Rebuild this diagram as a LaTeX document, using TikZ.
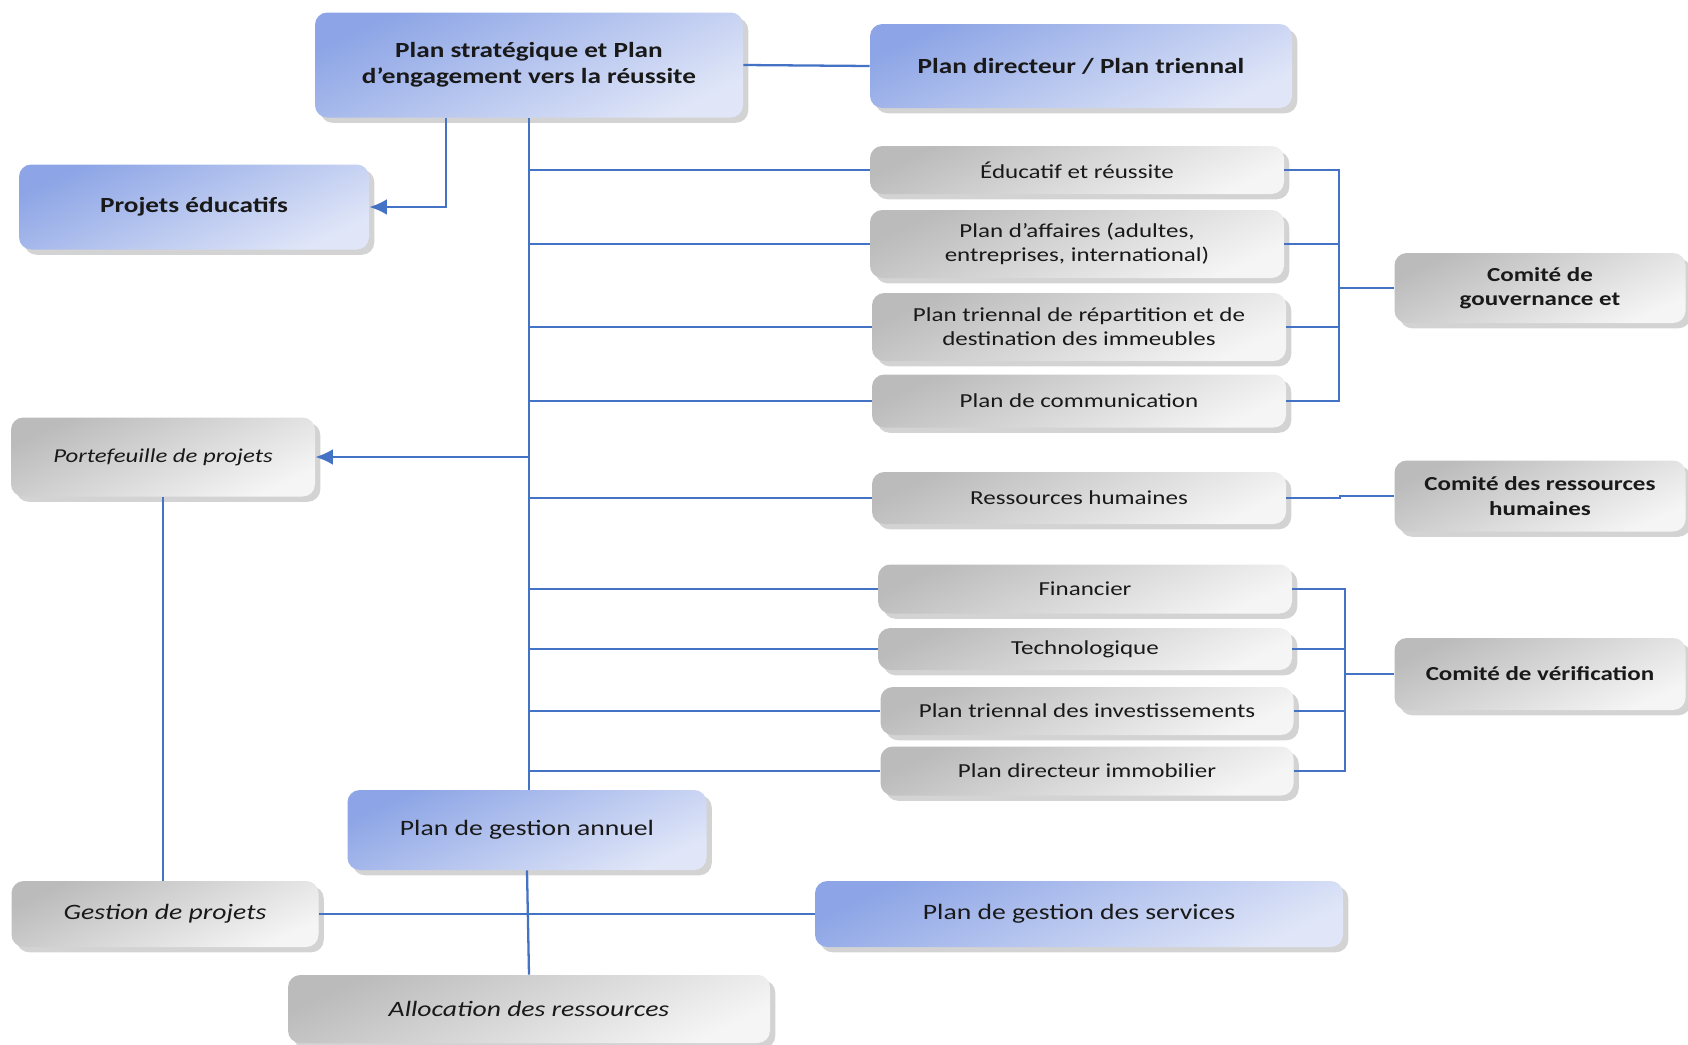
\documentclass[tikz,border=0pt]{standalone}
\usepackage{fontspec}
\setmainfont{Carlito}[FakeStretch=1.26]
\usetikzlibrary{arrows.meta,calc,shadows}
\definecolor{Link}{HTML}{4472C4}
\definecolor{BlueTop}{HTML}{8DA5E6}
\definecolor{BlueLow}{HTML}{E0E6F8}
\definecolor{GreyTop}{HTML}{BBBBBB}
\definecolor{GreyLow}{HTML}{F5F5F5}
\tikzset{
  card/.style={rounded corners=7pt, align=center, inner sep=2pt, text=black!90,
    drop shadow={shadow xshift=3pt, shadow yshift=-3pt, opacity=0.35}},
  bluecard/.style={card, top color=BlueTop, bottom color=BlueLow, shading angle=25},
  greycard/.style={card, top color=GreyTop, bottom color=GreyLow, shading angle=25},
  boxsize/.style 2 args={minimum width={#1*0.02cm}, minimum height={#2*0.02cm}},
  headtext/.style={font=\bfseries\fontsize{12.3}{15}\selectfont},
  bodytext/.style={font=\fontsize{11.3}{13.8}\selectfont},
  bigtext/.style={font=\fontsize{12.5}{15}\selectfont},
  link/.style={draw=Link, line width=1.3pt}
}
\begin{document}
\begin{tikzpicture}[x=0.02cm, y=-0.02cm, >={Latex[length=10pt,width=9pt]}]
  \useasboundingbox (0,0) rectangle (1688,1045);
  % plans
  \node[bluecard, headtext, boxsize={428}{105}] (strat) at (529,65) {Plan stratégique et Plan\\d’engagement vers la réussite};
  \node[bluecard, headtext, boxsize={422}{84}] (pdir) at (1081,66) {Plan directeur / Plan triennal};
  \node[bluecard, headtext, boxsize={350}{85}] (peduc) at (194,207) {Projets éducatifs};
  \node[greycard, font=\itshape\fontsize{11.2}{14}\selectfont, boxsize={304}{79}] (portef) at (163,457) {Portefeuille de projets};
  \node[bluecard, bigtext, boxsize={359}{80}] (pga) at (527,830) {Plan de gestion annuel};
  \node[greycard, bigtext, boxsize={307}{66}] (gproj) at (165,914) {\itshape Gestion de projets};
  \node[bluecard, bigtext, boxsize={528}{66}] (pgs) at (1079,914) {Plan de gestion des services};
  \node[greycard, bigtext, boxsize={482}{68}] (alloc) at (529,1009) {\itshape Allocation des ressources};
  % sectoral plans
  \node[greycard, bodytext, boxsize={414}{48}] (educ) at (1077,170) {Éducatif et réussite};
  \node[greycard, bodytext, boxsize={414}{68}] (affaires) at (1077,244) {Plan d’affaires (adultes,\\entreprises, international)};
  \node[greycard, bodytext, boxsize={414}{68}] (repart) at (1079,327) {Plan triennal de répartition et de\\destination des immeubles};
  \node[greycard, bodytext, boxsize={414}{53}] (comm) at (1079,401) {Plan de communication};
  \node[greycard, bodytext, boxsize={414}{52}] (rh) at (1079,498) {Ressources humaines};
  \node[greycard, bodytext, boxsize={414}{49}] (fin) at (1085,589) {Financier};
  \node[greycard, bodytext, boxsize={414}{42}] (techno) at (1085,649) {Technologique};
  \node[greycard, bodytext, boxsize={413}{48}] (invest) at (1087,711) {Plan triennal des investissements};
  \node[greycard, bodytext, boxsize={413}{49}] (immob) at (1087,771) {Plan directeur immobilier};
  % committees
  \node[greycard, font=\bfseries\fontsize{11.3}{13.8}\selectfont, boxsize={291}{70}] (cgouv) at (1540,288) {Comité de\\gouvernance et};
  \node[greycard, font=\bfseries\fontsize{11.3}{13.8}\selectfont, boxsize={291}{71}] (crh) at (1540,496) {Comité des ressources\\humaines};
  \node[greycard, font=\bfseries\fontsize{11.3}{13.8}\selectfont, boxsize={291}{72}] (cverif) at (1540,674) {Comité de vérification};
  % connectors
  \coordinate (gv) at (1339,288);
  \coordinate (vf) at (1345,674);
  \coordinate (rhj) at (1340,498);
  \draw[link] (strat.east) -- (pdir.west);
  \draw[link, ->] ([xshift=-1.66cm]strat.south) |- (peduc.east);
  \draw[link] (strat.south) -- (strat.south |- pga.north);
  \foreach \b in {educ,affaires,repart,comm,rh,fin,techno,invest,immob}
    \draw[link] (strat.south |- \b.west) -- (\b.west);
  \draw[link, ->] (strat.south |- portef.east) -- (portef.east);
  \draw[link] (portef.south) -- (portef.south |- gproj.north);
  \draw[link] (gproj.east) -- (pgs.west);
  \draw[link] (pga.south) -- (alloc.north);
  \foreach \b in {educ,affaires,repart,comm}
    \draw[link] (\b.east) -| (gv);
  \draw[link] (gv) -- (cgouv.west);
  \draw[link] (rh.east) -- (rhj) |- (crh.west);
  \foreach \b in {fin,techno,invest,immob}
    \draw[link] (\b.east) -| (vf);
  \draw[link] (vf) -- (cverif.west);
\end{tikzpicture}
\end{document}
